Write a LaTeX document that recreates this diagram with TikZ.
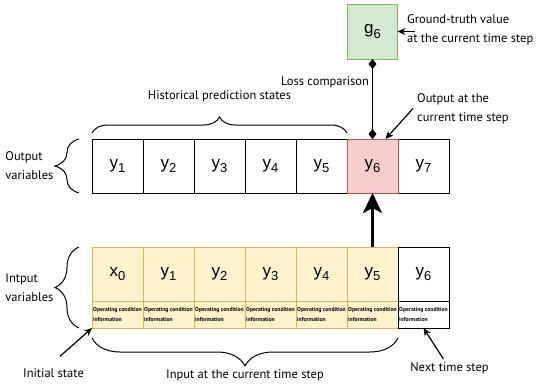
\documentclass[tikz,border=0pt]{standalone}
\usepackage{fontspec}
\setmainfont{PT Sans}
\newfontfamily\cellfont{Liberation Sans}
\usetikzlibrary{arrows.meta,positioning,decorations.pathreplacing}

\definecolor{yelfill}{HTML}{FFF2CC}
\definecolor{yeldraw}{HTML}{D6B656}
\definecolor{grnfill}{HTML}{D5E8D4}
\definecolor{grndraw}{HTML}{82B366}
\definecolor{redfill}{HTML}{F8CECC}
\definecolor{reddraw}{HTML}{B85450}

\newcommand\varsub[2]{#1\raisebox{-0.5ex}{\fontsize{13}{13}\selectfont #2}}

\begin{document}
\begin{tikzpicture}[
x=1pt, y=-1pt,
node distance=0pt,
cell/.style={draw, line width=1pt, minimum width=51pt, minimum height=54pt, inner sep=0pt, outer sep=0pt, font=\cellfont\fontsize{17}{17}\selectfont},
incell/.style={cell, fill=yelfill, draw=yeldraw},
info/.style={draw, line width=1pt, minimum width=51pt, minimum height=27pt, inner xsep=0.5pt, inner ysep=0pt, outer sep=0pt, align=left, font=\fontsize{5.7}{9.5}\selectfont\bfseries},
ininfo/.style={info, fill=yelfill, draw=yeldraw},
lbl/.style={inner sep=1pt, align=left, font=\fontsize{12.5}{19}\selectfont},
curly/.style={decorate, decoration={brace, amplitude=#1}, line width=1pt},
sarrow/.style={-{Stealth[length=8pt, width=7pt]}, line width=1.2pt},
bigarrow/.style={-{Stealth[length=20pt, width=19pt, inset=5pt]}, line width=3pt},
lossline/.style={{Diamond[length=10pt, width=8pt]}-{Diamond[length=10pt, width=8pt]}, line width=1pt}
]
\useasboundingbox (0,0) rectangle (550,386);

% output row
\node[cell] (o1) at (117.5,166) {\varsub{y}{1}};
\node[cell, right=of o1] (o2) {\varsub{y}{2}};
\node[cell, right=of o2] (o3) {\varsub{y}{3}};
\node[cell, right=of o3] (o4) {\varsub{y}{4}};
\node[cell, right=of o4] (o5) {\varsub{y}{5}};
\node[cell, right=51pt of o5] (o7) {\varsub{y}{7}};
\node[cell, right=of o5, fill=redfill, draw=reddraw] (o6) {\varsub{y}{6}};

% input row
\node[incell] (i1) at (117.5,274) {\varsub{x}{0}};
\node[incell, right=of i1] (i2) {\varsub{y}{1}};
\node[incell, right=of i2] (i3) {\varsub{y}{2}};
\node[incell, right=of i3] (i4) {\varsub{y}{3}};
\node[incell, right=of i4] (i5) {\varsub{y}{4}};
\node[incell, right=of i5] (i6) {\varsub{y}{5}};
\node[cell, right=of i6] (i7) {\varsub{y}{6}};

\node[ininfo, below=of i1] (n1) {Operating condition\\information};
\node[ininfo, below=of i2] (n2) {Operating condition\\information};
\node[ininfo, below=of i3] (n3) {Operating condition\\information};
\node[ininfo, below=of i4] (n4) {Operating condition\\information};
\node[ininfo, below=of i5] (n5) {Operating condition\\information};
\node[ininfo, below=of i6] (n6) {Operating condition\\information};
\node[info, below=of i7] (n7) {Operating condition\\information};

% ground truth
\node[cell, minimum width=50pt, minimum height=55pt, fill=grnfill, draw=grndraw, above=80pt of o6] (g6) {\varsub{g}{6}};

% side texts
\node[lbl, anchor=west] (gt) at (406,29.5) {Ground-truth value\\at the current time step};
\node[lbl, anchor=west] (outtxt) at (416,108.5) {Output at the\\current time step};
\node[lbl] (init) at (53.5,373) {Initial state};
\node[lbl] (nxt) at (449.5,368) {Next time step};

% connectors
\draw[bigarrow] (i6.north) -- (o6.south);
\draw[lossline] (g6.south) -- node[lbl, pos=0.29, left=2pt] (loss) {Loss comparison} (o6.north);
\draw[sarrow] ([xshift=9pt]g6.east -| gt.west) -- (g6.east);
\draw[sarrow] ([xshift=-3pt]outtxt.west) -- ([xshift=13pt]o6.north);
\draw[sarrow] ([xshift=6.5pt,yshift=11pt]init.north) -- (n1.south west);
\draw[sarrow] ([xshift=-6pt,yshift=2pt]nxt.north) -- (n7.south);

% braces
\draw[curly=16pt] ([yshift=6pt]o1.north west) -- node[lbl, above=30pt] (hist) {Historical prediction states} ([yshift=6pt]o5.north east);
\draw[curly=24pt] ([xshift=-13pt]o1.south west) -- node[lbl, left=24pt] (outvar) {Output\\variables} ([xshift=-13pt]o1.north west);
\draw[curly=24pt] ([xshift=-13pt]n1.south west) -- node[lbl, left=24pt] (invar) {Intput\\variables} ([xshift=-13pt]i1.north west);
\draw[curly=28pt] ([yshift=-10pt]n6.south east) -- node[lbl, below=30pt] (curin) {Input at the current time step} ([yshift=-10pt]n1.south west);
\end{tikzpicture}
\end{document}
